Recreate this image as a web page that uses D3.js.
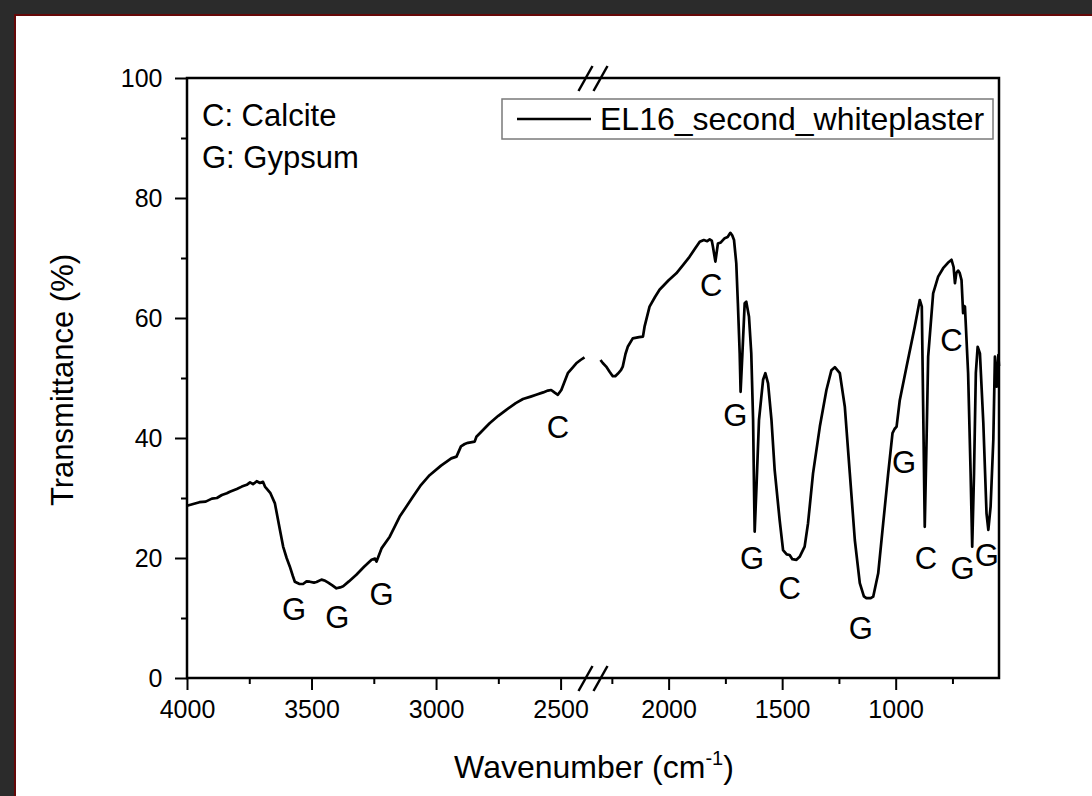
<!DOCTYPE html>
<html>
<head>
<meta charset="utf-8">
<script src="https://cdn.jsdelivr.net/npm/d3@7"></script>
<style>
body { margin: 0; background: #2b2b2b; }
text { font-family: "Liberation Sans", Arial, sans-serif; fill: #000; }
</style>
</head>
<body>
<script>
// left part of the spectrum (before the axis break)
var wave1 = [4000, 3975, 3950, 3925, 3900, 3880, 3860, 3840, 3828, 3800, 3780, 3760, 3747, 3735, 3720, 3707, 3695, 3687,
    3665, 3647, 3627, 3614, 3600, 3587, 3575, 3567, 3550, 3534, 3520, 3507, 3490, 3480, 3460, 3445, 3433, 3415, 3400,
    3385, 3373, 3350, 3320, 3290, 3259, 3245, 3239, 3219, 3186, 3146, 3093, 3060, 3026, 2980, 2939, 2918, 2900, 2885,
    2872, 2845, 2838, 2785, 2750, 2718, 2680, 2651, 2620, 2598, 2570, 2551, 2538, 2525, 2511, 2497, 2485, 2471, 2450,
    2437, 2420, 2404];
var trans1 = [28.7, 29.0, 29.3, 29.4, 29.9, 30.0, 30.5, 30.8, 31.05, 31.5, 31.9, 32.2, 32.6, 32.3, 32.8, 32.5, 32.7, 31.9,
    30.8, 29.1, 24.7, 21.9, 20.0, 18.55, 17.0, 16.05, 15.7, 15.67, 16.1, 16.05, 15.9, 16.0, 16.4, 16.2, 15.9, 15.4, 14.95,
    15.1, 15.3, 16.1, 17.2, 18.5, 19.7, 19.9, 19.4, 21.6, 23.55, 26.9, 30.2, 32.2, 33.8, 35.4, 36.6, 36.9, 38.6, 39.0,
    39.2, 39.4, 40.2, 42.45, 43.7, 44.7, 45.8, 46.5, 46.9, 47.2, 47.6, 47.9, 48.0, 47.6, 47.2, 48.0, 49.3, 50.8, 51.8,
    52.45, 53.0, 53.45];

// right part of the spectrum (after the break)
var wave2 = [2300, 2290, 2275, 2260, 2246, 2235, 2224, 2210, 2202, 2190, 2180, 2158, 2130, 2113, 2106, 2084, 2060, 2040,
    2000, 1966, 1935, 1908, 1885, 1863, 1845, 1830, 1819, 1810, 1805, 1794, 1783, 1770, 1753, 1740, 1728, 1720, 1712,
    1702, 1695, 1687, 1683, 1675, 1665, 1658, 1646, 1636, 1628, 1624, 1621, 1613, 1602, 1584, 1574, 1562, 1547, 1533,
    1511, 1496, 1480, 1467, 1455, 1437, 1423, 1401, 1386, 1364, 1334, 1305, 1283, 1268, 1246, 1224, 1202, 1180, 1158,
    1140, 1129, 1110, 1099, 1077, 1055, 1033, 1014, 1005, 996, 982, 952, 916, 894, 885, 879, 872, 864, 857, 835, 813,
    791, 770, 754, 745, 739, 733, 725, 718, 710, 703, 699, 695, 681, 670, 663, 655, 647, 639, 629, 614, 600, 592, 582,
    570, 563, 559, 555, 551, 548, 545];
var trans2 = [53.0, 52.5, 51.9, 51.05, 50.3, 50.3, 50.7, 51.3, 51.9, 54.0, 55.2, 56.6, 56.8, 56.9, 58.55, 61.9, 63.5, 64.7,
    66.3, 67.45, 68.9, 70.2, 71.5, 72.7, 73.0, 72.8, 73.1, 72.9, 71.9, 69.4, 72.4, 72.6, 73.3, 73.5, 74.2, 73.8, 73.0,
    69.1, 62.45, 54.1, 47.7, 54.1, 62.45, 62.7, 60.2, 54.1, 43, 31.9, 24.4, 31.9, 43, 49.7, 50.8, 49.1, 43, 34.7,
    26.3, 21.3, 20.6, 20.5, 19.8, 19.7, 20.2, 21.9, 25.8, 34.1, 41.9, 48, 51.3, 51.8, 50.8, 45.2, 34.1, 23, 15.8,
    13.6, 13.3, 13.3, 13.55, 17.45, 25.8, 34.1, 40.8, 41.5, 41.9, 46.3, 51.9, 58.55, 63, 61.9, 45.2, 25.2, 39.7, 53.55, 64.1, 66.9,
    68.3, 69.2, 69.7, 68.5, 65.8, 67.5, 67.9, 67.5, 66.3, 60.8, 62.0, 61.9, 50.8, 34.1, 21.9, 34.1, 50.8, 55.2, 54.1, 42.45, 27.45, 24.7, 28.55,
    39.7, 53.55, 50, 48.55, 52, 53.8, 52.0];

// peak assignments
var peakNames = ['G', 'G', 'G', 'C', 'C', 'G', 'G', 'C', 'G', 'G', 'C', 'G', 'G', 'C'];
var peakWave = [3570, 3396, 3219, 2511, 1812, 1706, 1633, 1467, 1154, 963, 867, 705, 599, 754];
var peakTrans = [11.45, 10.2, 14.1, 41.9, 65.5, 43.8, 19.95, 15, 8.3, 36.05, 19.95, 18.3, 20.5, 56.3];

var keyLines = ['C: Calcite', 'G: Gypsum'];
var seriesName = 'EL16_second_whiteplaster';

var xDomain1 = [4000, 2400], xDomain2 = [2300, 545];
var xMajor1 = [4000, 3500, 3000, 2500], xMinor1 = [3750, 3250, 2750];
var xMajor2 = [2000, 1500, 1000], xMinor2 = [2250, 1750, 1250, 750];
var yMajor = [0, 20, 40, 60, 80, 100], yMinor = [10, 30, 50, 70, 90];

var config = {
    width: 1092,
    height: 796,
    left: 187,
    right: 999,
    top: 78,
    bottom: 678,
    gap: 15,
    tickFont: 25,
    labelFont: 31,
}

var segW = (config.right - config.left - config.gap) / 2;
var x1 = d3.scaleLinear().domain(xDomain1).range([config.left, config.left + segW]);
var x2 = d3.scaleLinear().domain(xDomain2).range([config.right - segW, config.right]);
var y = d3.scaleLinear().domain([0, 100]).range([config.bottom, config.top]);

var svg = d3.select("body").append("svg")
    .attr("width", config.width)
    .attr("height", config.height)

// page frame
svg.append('rect').attr('x', 0).attr('y', 0).attr('width', config.width).attr('height', config.height).attr('fill', '#2b2b2b');
svg.append('rect').attr('x', 15).attr('y', 15).attr('width', config.width + 20).attr('height', config.height + 20)
    .attr('fill', '#fff').attr('stroke', '#650808').attr('stroke-width', 2);

// axes
function drawAxis(axis, major, minor, tx, ty) {
    svg.append('g').attr('transform', 'translate(' + tx + ',' + ty + ')')
        .call(axis.tickValues(minor).tickSize(6).tickFormat(''))
        .call(function(g) { g.select('.domain').remove(); g.selectAll('line').attr('stroke-width', 2); });
    var g = svg.append('g').attr('transform', 'translate(' + tx + ',' + ty + ')')
        .call(axis.tickValues(major).tickSize(12).tickPadding(10).tickFormat(d3.format('d')));
    g.select('.domain').remove();
    g.selectAll('line').attr('stroke-width', 2);
    g.selectAll('text').attr('font-size', config.tickFont).attr('font-family', null).attr('fill', '#000');
    return g;
}

drawAxis(d3.axisBottom(x1), xMajor1, xMinor1, 0, config.bottom);
drawAxis(d3.axisBottom(x2), xMajor2, xMinor2, 0, config.bottom);
drawAxis(d3.axisLeft(y), yMajor, yMinor, config.left, 0).selectAll('text').attr('dx', '-0.1em');

svg.append('rect')
    .attr('x', config.left).attr('y', config.top)
    .attr('width', config.right - config.left).attr('height', config.bottom - config.top)
    .attr('fill', 'none').attr('stroke', '#000').attr('stroke-width', 2.5);

// break marks on top and bottom axes
[config.top, config.bottom].forEach(function(yy) {
    [config.left + segW, config.right - segW].forEach(function(xx) {
        svg.append('line')
            .attr('x1', xx - 7).attr('y1', yy + 13)
            .attr('x2', xx + 7).attr('y2', yy - 12)
            .attr('stroke', '#000').attr('stroke-width', 2.5);
    });
});

// spectrum
var pts1 = wave1.map(function(w, i) { return [x1(w), y(trans1[i])]; });
var pts2 = wave2.map(function(w, i) { return [x2(w), y(trans2[i])]; });
var line = d3.line();
svg.append('g').selectAll('path')
    .data([pts1, pts2])
    .enter()
    .append('path')
        .attr('d', line)
        .attr('fill', 'none')
        .attr('stroke', '#000')
        .attr('stroke-width', 2.7)
        .attr('stroke-linejoin', 'round');

// peak labels
svg.append('g').selectAll('text')
    .data(peakNames)
    .enter()
    .append('text')
        .attr('x', function(d, i) { var w = peakWave[i]; return w > 2350 ? x1(w) : x2(w); })
        .attr('y', function(d, i) { return y(peakTrans[i]); })
        .attr('dy', '0.36em')
        .attr('text-anchor', 'middle')
        .attr('font-size', config.labelFont)
        .text(function(d) { return d; });

// key
svg.append('g').selectAll('text')
    .data(keyLines)
    .enter()
    .append('text')
        .attr('x', 202)
        .attr('y', function(d, i) { return 126 + i * 42; })
        .attr('font-size', config.labelFont)
        .text(function(d) { return d; });

// legend
var legend = svg.append('g');
legend.append('rect').attr('x', 502).attr('y', 99).attr('width', 491).attr('height', 40)
    .attr('fill', '#fff').attr('stroke', '#7a7a7a').attr('stroke-width', 1.5);
legend.append('line').attr('x1', 517).attr('x2', 591).attr('y1', 119).attr('y2', 119)
    .attr('stroke', '#000').attr('stroke-width', 2.7);
legend.append('text').attr('x', 600).attr('y', 130).attr('font-size', 32).text(seriesName);

// axis titles
svg.append('text')
    .attr('transform', 'translate(73,380) rotate(-90)')
    .attr('text-anchor', 'middle')
    .attr('font-size', 31)
    .text('Transmittance (%)');

var xt = svg.append('text')
    .attr('x', 594).attr('y', 778)
    .attr('text-anchor', 'middle')
    .attr('font-size', 32);
xt.append('tspan').text('Wavenumber (cm');
xt.append('tspan').attr('font-size', 20).attr('dy', -13).text('-1');
xt.append('tspan').attr('dy', 13).text(')');
</script>
</body>
</html>
